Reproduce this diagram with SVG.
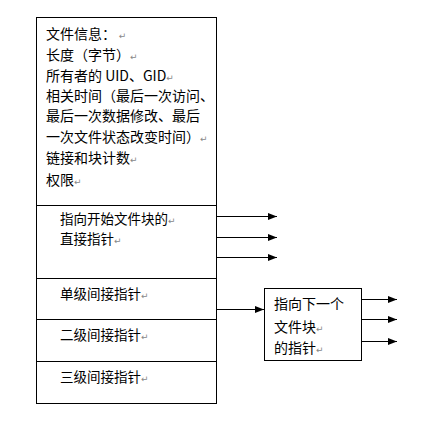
<svg xmlns="http://www.w3.org/2000/svg" width="437" height="423" viewBox="0 0 437 423">
<style>
.box{fill:#fff;stroke:#000;stroke-width:1}
.sep{stroke:#000;stroke-width:1}
text{font-family:"Noto Sans CJK SC","Liberation Sans",sans-serif;font-size:13.5px;fill:#000}
.big{font-size:14px}
.rt{fill:#888;font-size:9px;font-family:"DejaVu Sans",sans-serif}
.con{stroke:#000;stroke-width:1;fill:none;marker-end:url(#ah)}
</style>
<defs>
<marker id="ah" markerWidth="9" markerHeight="7" refX="9" refY="3.5" orient="auto" markerUnits="userSpaceOnUse">
<path d="M0,0 L9,3.5 L0,7 Z" fill="#000"/>
</marker>
</defs>
<rect width="437" height="423" fill="#fff"/>
<g id="inode">
<rect class="box" x="36.5" y="17.5" width="180" height="386"/>
<line class="sep" x1="36.5" y1="205.5" x2="216.5" y2="205.5"/>
<line class="sep" x1="36.5" y1="278.5" x2="216.5" y2="278.5"/>
<line class="sep" x1="36.5" y1="319.5" x2="216.5" y2="319.5"/>
<line class="sep" x1="36.5" y1="361.5" x2="216.5" y2="361.5"/>
</g>
<g id="fileinfo">
<text class="big" x="46" y="39">文件信息：<tspan class="rt"> ↵</tspan></text>
<text class="big" x="46" y="60">长度（字节）<tspan class="rt">↵</tspan></text>
<text class="big" x="46" y="81">所有者的 UID、GID<tspan class="rt">↵</tspan></text>
<text class="big" x="46" y="101">相关时间（最后一次访问、</text>
<text class="big" x="46" y="121">最后一次数据修改、最后</text>
<text class="big" x="46" y="142">一次文件状态改变时间）<tspan class="rt">↵</tspan></text>
<text class="big" x="46" y="163">链接和块计数<tspan class="rt">↵</tspan></text>
<text class="big" x="46" y="185">权限<tspan class="rt">↵</tspan></text>
</g>
<g id="direct">
<text x="60" y="224">指向开始文件块的<tspan class="rt">↵</tspan></text>
<text x="60" y="244">直接指针<tspan class="rt">↵</tspan></text>
</g>
<g id="single">
<text x="60" y="299">单级间接指针<tspan class="rt">↵</tspan></text>
</g>
<g id="double">
<text x="60" y="340">二级间接指针<tspan class="rt">↵</tspan></text>
</g>
<g id="triple">
<text x="60" y="382">三级间接指针<tspan class="rt">↵</tspan></text>
</g>
<g id="nextblock">
<rect class="box" x="264.5" y="288.5" width="97" height="72"/>
<text class="big" x="274" y="309">指向下一个</text>
<text class="big" x="274" y="332">文件块<tspan class="rt">↵</tspan></text>
<text class="big" x="274" y="353">的指针<tspan class="rt">↵</tspan></text>
</g>
<g id="connectors">
<line class="con" x1="217" y1="216.5" x2="277" y2="216.5"/>
<line class="con" x1="217" y1="237.5" x2="277" y2="237.5"/>
<line class="con" x1="217" y1="257.5" x2="277" y2="257.5"/>
<line class="con" x1="217" y1="309.5" x2="264" y2="309.5"/>
<line class="con" x1="362" y1="299.5" x2="397" y2="299.5"/>
<line class="con" x1="362" y1="319.5" x2="397" y2="319.5"/>
<line class="con" x1="362" y1="341.5" x2="397" y2="341.5"/>
</g>
</svg>
